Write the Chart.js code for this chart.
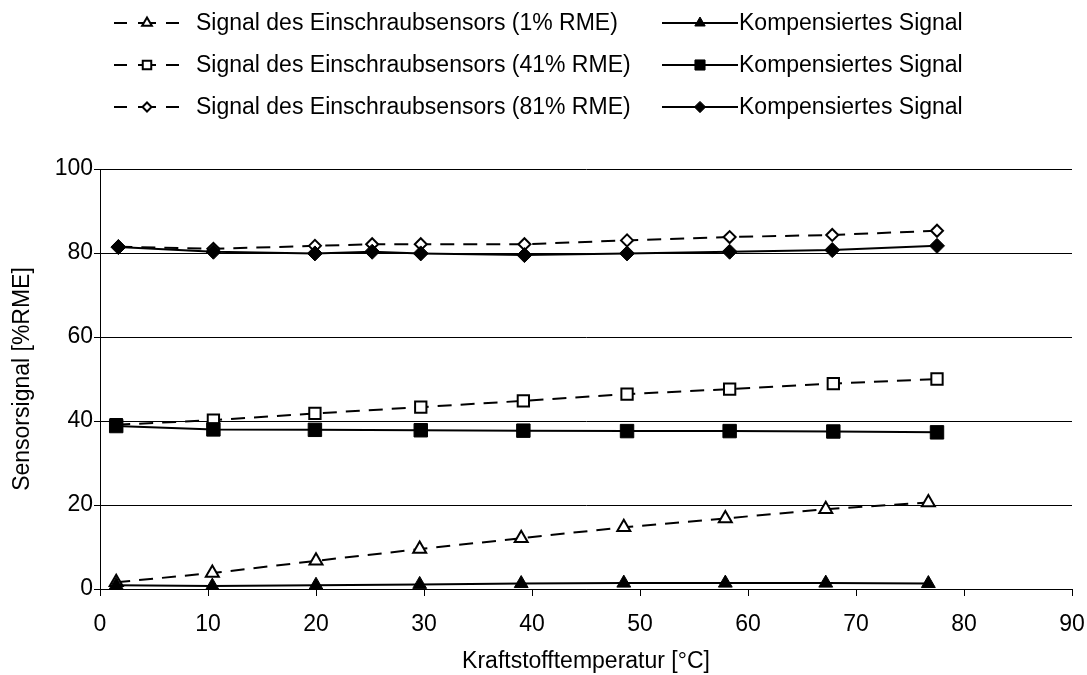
<!DOCTYPE html>
<html lang="de">
<head>
<meta charset="utf-8">
<title>Sensorsignal über Kraftstofftemperatur</title>
<script src="https://cdn.jsdelivr.net/npm/chart.js@4.4.1/dist/chart.umd.min.js"></script>
<style>
  html, body { margin: 0; padding: 0; background: #fff; }
  #wrap { width: 1087px; height: 675px; position: relative; }
  canvas { display: block; }
</style>
</head>
<body>
<div id="wrap"><canvas id="c" width="1087" height="675" style="width:1087px;height:675px"></canvas></div>
<script>
// Kraftstofftemperatur je Messreihe [°C]
const tempRme1  = [1.5, 10.4, 20.0, 29.6, 39.0, 48.5, 57.9, 67.2, 76.7];
const tempRme41 = [1.5, 10.5, 19.9, 29.7, 39.2, 48.8, 58.3, 67.9, 77.5];
const tempRme81 = [1.7, 10.5, 19.9, 25.2, 29.7, 39.3, 48.8, 58.3, 67.8, 77.5];

// Sensorsignal [%RME]: Rohsignal des Einschraubsensors und kompensiertes Signal
const rohRme1   = [1.6, 3.8, 6.7, 9.5, 12.1, 14.7, 16.8, 19.0, 20.6];
const kompRme1  = [0.9, 0.7, 0.9, 1.1, 1.3, 1.4, 1.4, 1.4, 1.3];
const rohRme41  = [39.1, 40.2, 41.8, 43.3, 44.8, 46.4, 47.6, 48.9, 50.0];
const kompRme41 = [38.8, 38.0, 37.9, 37.8, 37.7, 37.6, 37.6, 37.5, 37.3];
const rohRme81  = [81.5, 81.0, 81.7, 82.1, 82.1, 82.1, 83.0, 83.8, 84.3, 85.3];
const kompRme81 = [81.4, 80.3, 79.9, 80.3, 79.9, 79.5, 79.9, 80.3, 80.7, 81.7];

// Beschriftungen
const seriesLabels = [
  'Signal des Einschraubsensors (1% RME)', 'Kompensiertes Signal',
  'Signal des Einschraubsensors (41% RME)', 'Kompensiertes Signal',
  'Signal des Einschraubsensors (81% RME)', 'Kompensiertes Signal'
];
const xTickLabels = ['0', '10', '20', '30', '40', '50', '60', '70', '80', '90'];
const yTickLabels = ['0', '20', '40', '60', '80', '100'];
const xTitle = 'Kraftstofftemperatur [°C]';
const yTitle = 'Sensorsignal [%RME]';

const FONT = { family: "'Liberation Sans', Arial, Helvetica, sans-serif", size: 23 };
Chart.defaults.font.family = FONT.family;
Chart.defaults.font.size = FONT.size;
Chart.defaults.color = '#000';

const toPoints = (xs, ys) => xs.map((x, i) => ({ x, y: ys[i] }));

function rohSerie(label, xs, ys, style, radius) {
  return {
    label, data: toPoints(xs, ys), showLine: true, order: 1,
    borderColor: '#000', borderWidth: 2, borderDash: [14, 9], tension: 0,
    pointStyle: style, pointRadius: radius, pointHoverRadius: radius,
    pointBackgroundColor: '#fff', pointBorderColor: '#000', pointBorderWidth: 2
  };
}
function kompSerie(label, xs, ys, style, radius) {
  return {
    label, data: toPoints(xs, ys), showLine: true, order: 0,
    borderColor: '#000', borderWidth: 2, tension: 0,
    pointStyle: style, pointRadius: radius, pointHoverRadius: radius,
    pointBackgroundColor: '#000', pointBorderColor: '#000', pointBorderWidth: 1
  };
}

const datasets = [
  rohSerie(seriesLabels[0], tempRme1, rohRme1, 'triangle', 7.5),
  kompSerie(seriesLabels[1], tempRme1, kompRme1, 'triangle', 8),
  rohSerie(seriesLabels[2], tempRme41, rohRme41, 'rect', 8),
  kompSerie(seriesLabels[3], tempRme41, kompRme41, 'rect', 9.5),
  rohSerie(seriesLabels[4], tempRme81, rohRme81, 'rectRot', 6),
  kompSerie(seriesLabels[5], tempRme81, kompRme81, 'rectRot', 7.5)
];

// Markerform für die Legende (gleiche Form wie im Diagramm, etwas kleiner)
function legendMarker(ctx, ds, x, y) {
  const r = ds.pointRadius * 0.75;
  ctx.fillStyle = ds.pointBackgroundColor;
  ctx.strokeStyle = ds.pointBorderColor;
  ctx.lineWidth = ds.pointBorderWidth;
  ctx.setLineDash([]);
  if (Chart.helpers && Chart.helpers.drawPoint) {
    Chart.helpers.drawPoint(ctx, { pointStyle: ds.pointStyle, radius: r, rotation: 0, borderWidth: ds.pointBorderWidth }, x, y);
    return;
  }
  ctx.beginPath();
  if (ds.pointStyle === 'triangle') {
    ctx.moveTo(x, y - r); ctx.lineTo(x + r * 0.866, y + r / 2); ctx.lineTo(x - r * 0.866, y + r / 2);
  } else if (ds.pointStyle === 'rect') {
    const s = r * Math.SQRT1_2; ctx.rect(x - s, y - s, 2 * s, 2 * s);
  } else {
    ctx.moveTo(x, y - r); ctx.lineTo(x + r, y); ctx.lineTo(x, y + r); ctx.lineTo(x - r, y);
  }
  ctx.closePath(); ctx.fill(); ctx.stroke();
}

// Zweispaltige Legende oberhalb der Zeichenfläche
const zweispaltigeLegende = {
  id: 'zweispaltigeLegende',
  afterDraw(chart) {
    const ctx = chart.ctx;
    const rowY = [23, 65, 107];
    chart.data.datasets.forEach((ds, i) => {
      const y = rowY[Math.floor(i / 2)];
      const left = i % 2 === 0;
      ctx.save();
      ctx.strokeStyle = '#000';
      ctx.lineWidth = 2;
      ctx.setLineDash([]);
      let mx, tx;
      if (left) {
        [[114, 127], [138, 156], [166, 179]].forEach(([a, b]) => {
          ctx.beginPath(); ctx.moveTo(a, y); ctx.lineTo(b, y); ctx.stroke();
        });
        mx = 147; tx = 196;
      } else {
        ctx.beginPath(); ctx.moveTo(662, y); ctx.lineTo(738, y); ctx.stroke();
        mx = 700; tx = 739;
      }
      legendMarker(ctx, ds, mx, y);
      ctx.fillStyle = '#000';
      ctx.font = FONT.size + 'px ' + FONT.family;
      ctx.textAlign = 'left';
      ctx.textBaseline = 'middle';
      ctx.fillText(ds.label, tx, y + 1);
      ctx.restore();
    });
  }
};

new Chart(document.getElementById('c'), {
  type: 'scatter',
  data: { datasets },
  options: {
    responsive: false,
    animation: false,
    devicePixelRatio: 1,
    layout: { padding: { top: 169, right: 15, bottom: 0, left: 0 } },
    plugins: { legend: { display: false }, tooltip: { enabled: false } },
    scales: {
      x: {
        type: 'linear', min: 0, max: 90,
        afterBuildTicks: s => { s.ticks = xTickLabels.map(v => ({ value: Number(v) })); },
        ticks: { color: '#000', padding: 15, maxRotation: 0, autoSkip: false,
                 callback: (v, i) => xTickLabels[i] },
        grid: { drawOnChartArea: false, drawTicks: true, tickLength: 7, color: '#000', lineWidth: 1 },
        border: { color: '#000', width: 1 },
        title: { display: true, text: xTitle, color: '#000', padding: { top: 0, bottom: 0 } },
        // feste Höhe; Randabstand rechts kommt allein aus layout.padding
        afterFit: s => { s.height = 86; s.paddingRight = 0; s.paddingLeft = 0; }
      },
      y: {
        type: 'linear', min: 0, max: 100,
        afterBuildTicks: s => { s.ticks = yTickLabels.map(v => ({ value: Number(v) })); },
        ticks: { color: '#000', padding: 1, autoSkip: false,
                 callback: (v, i) => yTickLabels[i] },
        grid: { color: '#000', lineWidth: 1, tickLength: 6 },
        border: { color: '#000', width: 1 },
        title: { display: true, text: yTitle, color: '#000', padding: { top: 9, bottom: 0 } },
        afterFit: s => { s.width = 100; }
      }
    }
  },
  plugins: [zweispaltigeLegende]
});
</script>
</body>
</html>
